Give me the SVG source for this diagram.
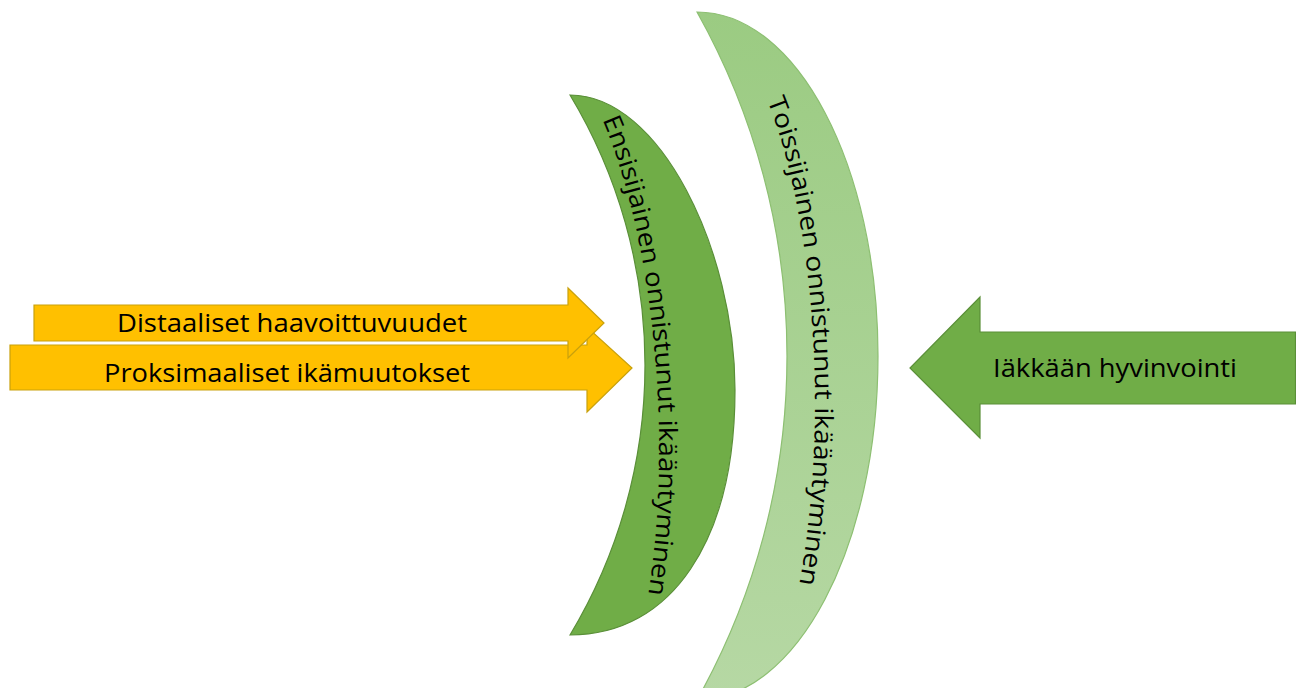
<svg xmlns="http://www.w3.org/2000/svg" xmlns:xlink="http://www.w3.org/1999/xlink" width="1296" height="688" viewBox="0 0 1296 688">
  <style>
    .lbl { font-family: "Open Sans", "Liberation Sans", sans-serif; font-size: 25px; fill: #000000; }
    .yellow { fill: #FFC000; stroke: #C9A10C; stroke-width: 1.2; }
    .green { fill: #70AD47; stroke: #5A8F38; stroke-width: 1.2; }
  </style>
  <defs>
    <linearGradient id="lightGreen" x1="0" y1="0" x2="0" y2="1">
      <stop offset="0" stop-color="#9BCB82"/>
      <stop offset="1" stop-color="#B6D8A4"/>
    </linearGradient>
    <path id="path1" d="M 593,100 C 645,200 680,420 645,615"/>
    <path id="path2" d="M 765,95 C 808,195 834,400 798,592"/>
  </defs>
  <rect width="1296" height="688" fill="#FFFFFF"/>

  <g id="moon-secondary">
    <path d="M 697,12 C 797,12 878,166 878,356 C 878,546 797,700 697,700 A 702.4 702.4 0 0 0 697,12 Z" fill="url(#lightGreen)" stroke="#8DBF72" stroke-width="1.2"/>
    <text class="lbl"><textPath xlink:href="#path2" href="#path2" startOffset="6" textLength="490" lengthAdjust="spacingAndGlyphs">Toissijainen onnistunut ikääntyminen</textPath></text>
  </g>

  <g id="moon-primary">
    <path d="M 570,95 C 660,95 735,250 735,390 C 735,540 672,635 570,635 A 523.5 523.5 0 0 0 570,95 Z" class="green" stroke="#507E32" stroke-width="1.5"/>
    <text class="lbl"><textPath xlink:href="#path1" href="#path1" startOffset="22" textLength="482" lengthAdjust="spacingAndGlyphs">Ensisijainen onnistunut ikääntyminen</textPath></text>
  </g>

  <g id="connectors">
    <g id="arrow-proksimaaliset">
      <path d="M 10,345 H 587 V 327 L 632,368 L 587,412 V 390 H 10 Z" class="yellow"/>
      <text class="lbl" x="104" y="382" textLength="366" lengthAdjust="spacingAndGlyphs">Proksimaaliset ikämuutokset</text>
    </g>
    <g id="arrow-distaaliset">
      <path d="M 34,305 H 568 V 288 L 604,323 L 568,358 V 341 H 34 Z" class="yellow"/>
      <text class="lbl" x="117" y="332" textLength="350" lengthAdjust="spacingAndGlyphs">Distaaliset haavoittuvuudet</text>
    </g>
    <g id="arrow-hyvinvointi">
      <path d="M 1295.5,332 H 980 V 297 L 910,368 L 980,438 V 404 H 1295.5 Z" class="green"/>
      <text class="lbl" x="993" y="377" textLength="244" lengthAdjust="spacingAndGlyphs">Iäkkään hyvinvointi</text>
    </g>
  </g>
</svg>
